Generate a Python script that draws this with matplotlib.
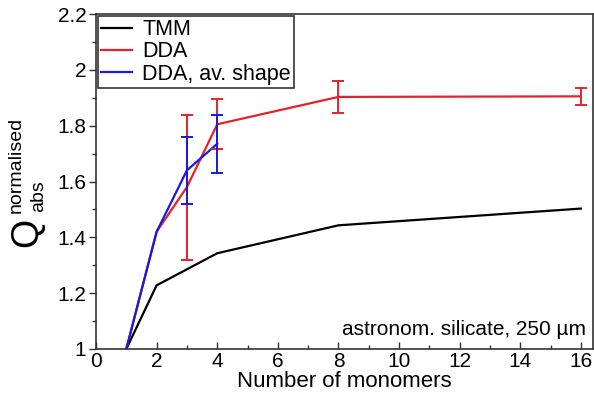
import matplotlib
matplotlib.use('Agg')
import matplotlib.pyplot as plt
from matplotlib.ticker import MultipleLocator, FormatStrFormatter

plt.rcParams['font.family'] = ['Liberation Sans', 'DejaVu Sans']

# data
tmm_x = [1, 2, 4, 8, 16]
tmm_y = [1.0, 1.228, 1.343, 1.443, 1.503]

dda_x = [1, 2, 3, 4, 8, 16]
dda_y = [1.0, 1.42, 1.58, 1.805, 1.903, 1.905]
dda_err_x = [3, 4, 8, 16]
dda_err_y = [1.58, 1.805, 1.903, 1.905]
dda_err = [0.26, 0.09, 0.058, 0.03]

shape_x = [1, 2, 3, 4]
shape_y = [1.0, 1.42, 1.64, 1.735]
shape_err_x = [3, 4]
shape_err_y = [1.64, 1.735]
shape_err = [0.12, 0.105]

red = '#e3222a'
blue = '#1a1adc'

W, H = 594, 405
fig = plt.figure(figsize=(W / 100, H / 100), dpi=100)
ax = fig.add_axes([96 / W, 1 - 349 / H, 497 / W, 335 / H])

ax.plot(tmm_x, tmm_y, color='black', lw=1.6, label='TMM')
ax.plot(dda_x, dda_y, color=red, lw=1.6, label='DDA')
ax.plot(shape_x, shape_y, color=blue, lw=1.6, label='DDA, av. shape')
ax.errorbar(dda_err_x, dda_err_y, yerr=dda_err, fmt='none', ecolor=red,
            elinewidth=1.4, capsize=4.5, capthick=1.4)
ax.errorbar(shape_err_x, shape_err_y, yerr=shape_err, fmt='none', ecolor=blue,
            elinewidth=1.4, capsize=4.5, capthick=1.4)

ax.set_xlim(0, 16.4)
ax.set_ylim(1, 2.2)
ax.xaxis.set_major_locator(MultipleLocator(2))
ax.xaxis.set_minor_locator(MultipleLocator(1))
ax.yaxis.set_major_locator(MultipleLocator(0.2))
ax.yaxis.set_minor_locator(MultipleLocator(0.1))
ax.yaxis.set_major_formatter(FormatStrFormatter('%g'))
ax.tick_params(which='major', direction='out', length=5, width=1, labelsize=15,
               colors='#333333', labelcolor='black', pad=2)
ax.tick_params(which='minor', direction='out', length=3, width=1, colors='#333333')
ax.tick_params(axis='x', which='both', direction='in')

for s in ax.spines.values():
    s.set_linewidth(1.2)
    s.set_color('#333333')

ax.set_xlabel('Number of monomers', fontsize=16, labelpad=0)

# y label: Q with super/subscript placed by hand
fig.text(27 / W, 1 - 232 / H, 'Q', rotation=90, fontsize=27, ha='center', va='center')
fig.text(16 / W, 1 - 213 / H, 'normalised', rotation=90, fontsize=14, ha='center', va='bottom')
fig.text(39 / W, 1 - 212 / H, 'abs', rotation=90, fontsize=14, ha='center', va='bottom')

ax.text(0.985, 0.03, 'astronom. silicate, 250 \u00b5m', transform=ax.transAxes,
        ha='right', va='bottom', fontsize=15)

leg = ax.legend(loc='upper left', fontsize=15.5, fancybox=False, framealpha=1,
                edgecolor='#333333', borderaxespad=0.1, handlelength=1.4,
                labelspacing=0.05, borderpad=0.15, handletextpad=0.5)
leg.get_frame().set_linewidth(1.2)

plt.savefig('out.png', dpi=100)
